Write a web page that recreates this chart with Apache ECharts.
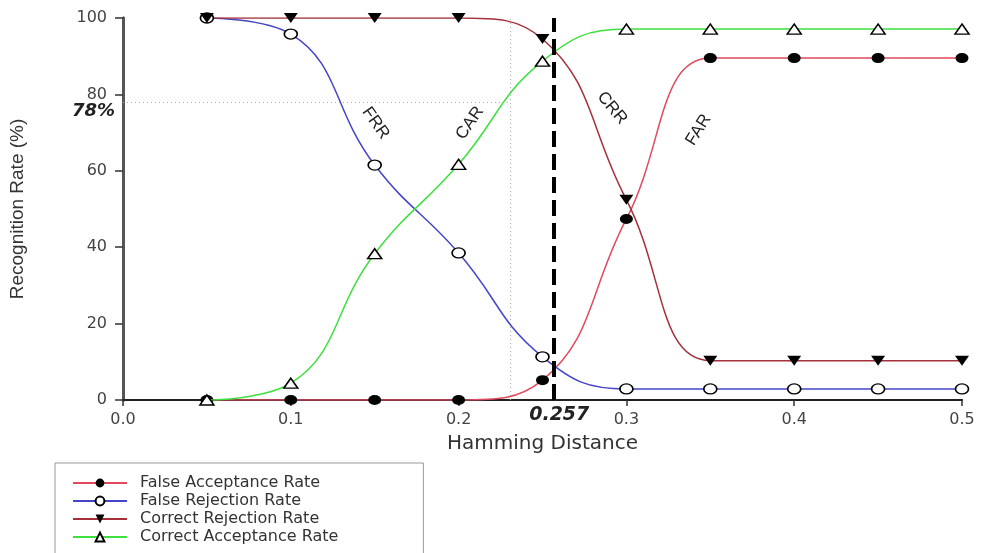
<!DOCTYPE html>
<html>
<head>
<meta charset="utf-8">
<script src="https://cdn.jsdelivr.net/npm/echarts@6/dist/echarts.min.js"></script>
<style>html,body{margin:0;padding:0;background:#fff;}#chart{width:981px;height:553px;}</style>
</head>
<body>
<div id="chart"></div>
<script>
const hammingDistance = [0.05, 0.10, 0.15, 0.20, 0.25, 0.30, 0.35, 0.40, 0.45, 0.50];
const farValues = [0, 0, 0, 0, 5.2, 47.4, 89.5, 89.5, 89.5, 89.5];
const frrValues = [100, 95.8, 61.5, 38.5, 11.3, 2.9, 2.9, 2.9, 2.9, 2.9];
const crrValues = [100, 100, 100, 100, 94.5, 52.4, 10.3, 10.3, 10.3, 10.3];
const carValues = [0, 4.4, 38.3, 61.7, 88.7, 97.1, 97.1, 97.1, 97.1, 97.1];
const seriesNames = ['False Acceptance Rate', 'False Rejection Rate', 'Correct Rejection Rate', 'Correct Acceptance Rate'];
const eerThreshold = 0.257;
const carThreshold = 0.231;
const carLevel = 78;
const curveLabels = [
  { text: 'FRR', x: 0.1505, y: 72.5, rotate: -55 },
  { text: 'CAR', x: 0.2068, y: 72.5, rotate: 55 },
  { text: 'CRR', x: 0.2915, y: 76.4, rotate: -50 },
  { text: 'FAR', x: 0.343, y: 70.7, rotate: 58 }
];

const pairs = vals => hammingDistance.map((x, i) => [x, vals[i]]);
const chart = echarts.init(document.getElementById('chart'));
const tickFont = { fontFamily: 'DejaVu Sans', fontSize: 16, color: '#444' };

const option = {
  backgroundColor: '#fff',
  animation: false,
  grid: { left: 118, right: 19, top: 18, bottom: 153, containLabel: false },
  legend: {
    data: seriesNames,
    orient: 'vertical',
    left: 55,
    top: 463,
    height: 140,
    itemWidth: 54,
    itemHeight: 11,
    itemGap: 2,
    padding: [12, 85, 12, 17],
    borderColor: '#999',
    borderWidth: 1,
    textStyle: { fontFamily: 'DejaVu Sans', fontSize: 16, lineHeight: 16, color: '#333', padding: [0, 0, 0, 8] }
  },
  xAxis: [{
    type: 'value', min: 0, max: 0.5, interval: 0.1,
    name: 'Hamming Distance', nameLocation: 'middle', nameGap: 34,
    nameTextStyle: { fontFamily: 'DejaVu Sans', fontSize: 20, color: '#333' },
    axisLine: { show: true, lineStyle: { color: '#222', width: 2 } },
    axisTick: { show: true, length: 6, lineStyle: { color: '#333', width: 1.5 } },
    axisLabel: Object.assign({ margin: 12, formatter: v => v.toFixed(1) }, tickFont),
    splitLine: { show: false }
  }, {
    type: 'value', min: 0, max: 0.5, position: 'top',
    axisLine: { show: true, lineStyle: { color: '#222', width: 1.5 } },
    axisTick: { show: false }, axisLabel: { show: false }, splitLine: { show: false }
  }],
  yAxis: [{
    type: 'value', min: 0, max: 100, interval: 20,
    name: 'Recognition Rate (%)', nameLocation: 'middle', nameGap: 96,
    nameTextStyle: { fontFamily: 'Liberation Sans', fontSize: 19, color: '#333' },
    axisLine: { show: true, lineStyle: { color: '#555', width: 3 } },
    axisTick: { show: true, length: 8, lineStyle: { color: '#333', width: 1.5 } },
    axisLabel: Object.assign({ margin: 16 }, tickFont),
    splitLine: { show: false }
  }, {
    type: 'value', min: 0, max: 100, position: 'right',
    axisLine: { show: true, lineStyle: { color: '#555', width: 3 } },
    axisTick: { show: false }, axisLabel: { show: false }, splitLine: { show: false }
  }],
  series: [
    {
      name: seriesNames[0], type: 'line', smooth: 0.45, data: pairs(farValues),
      symbol: 'circle', symbolSize: [13, 10],
      lineStyle: { color: '#e04a5e', width: 1.5 },
      itemStyle: { color: '#000' }, z: 3
    },
    {
      name: seriesNames[1], type: 'line', smooth: 0.45, data: pairs(frrValues),
      symbol: 'circle', symbolSize: [13, 10],
      lineStyle: { color: '#4545c8', width: 1.5 },
      itemStyle: { color: '#fff', borderColor: '#000', borderWidth: 1.5 }, z: 3
    },
    {
      name: seriesNames[2], type: 'line', smooth: 0.45, data: pairs(crrValues),
      symbol: 'triangle', symbolRotate: 180, symbolSize: [14, 10],
      lineStyle: { color: '#a3303a', width: 1.5 },
      itemStyle: { color: '#000' }, z: 3
    },
    {
      name: seriesNames[3], type: 'line', smooth: 0.45, data: pairs(carValues),
      symbol: 'triangle', symbolSize: [14, 10],
      lineStyle: { color: '#3ee03e', width: 1.5 },
      itemStyle: { color: '#fff', borderColor: '#000', borderWidth: 1.5 }, z: 4,
      markLine: {
        silent: true, symbol: ['none', 'none'], animation: false, z: 10,
        data: [
          [
            { coord: [carThreshold, 0], lineStyle: { color: '#aaa', width: 1, type: [1, 3] }, label: { show: false } },
            { coord: [carThreshold, 100] }
          ],
          [
            { coord: [0, carLevel], lineStyle: { color: '#aaa', width: 1, type: [1, 3] },
              label: { show: true, position: 'start', formatter: '\n' + carLevel + '%', distance: 8,
                lineHeight: 18,
                fontFamily: 'DejaVu Sans', fontWeight: 'bold', fontStyle: 'italic', fontSize: 18, color: '#222' } },
            { coord: [carThreshold, carLevel] }
          ],
          [
            { coord: [eerThreshold, 0], lineStyle: { color: '#000', width: 4, type: [16, 7] },
              label: { show: true, position: 'start', formatter: String(eerThreshold), distance: 6,
                fontFamily: 'DejaVu Sans', fontWeight: 'bold', fontStyle: 'italic', fontSize: 19, color: '#222',
                padding: [0, 0, 0, 10] } },
            { coord: [eerThreshold, 100] }
          ]
        ]
      },
      markPoint: {
        silent: true, symbol: 'circle', symbolSize: 1, itemStyle: { color: 'rgba(0,0,0,0)' },
        data: curveLabels.map(l => ({
          coord: [l.x, l.y],
          label: { show: true, position: 'inside', formatter: l.text, rotate: l.rotate,
            fontFamily: 'Liberation Sans', fontSize: 17, color: '#222' }
        }))
      }
    }
  ]
};
chart.setOption(option);
</script>
</body>
</html>
